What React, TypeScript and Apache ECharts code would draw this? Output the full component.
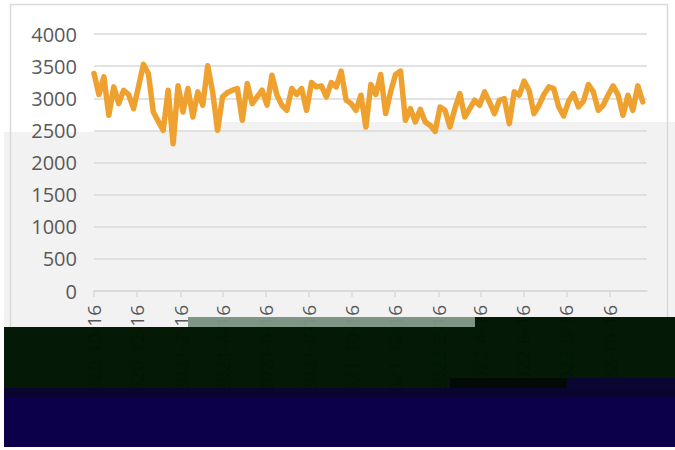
import { useEffect, useRef } from "react";
import * as echarts from "echarts";

const START_DATE = "2020-10-16";
const DAYS_PER_POINT = 7;

const tickLabels = [
  "2020-10-16", "2020-12-16", "2021-2-16", "2021-4-16", "2021-6-16",
  "2021-8-16", "2021-10-16", "2021-12-16", "2022-2-16", "2022-4-16",
  "2022-6-16", "2022-8-16", "2022-10-16",
];

const weeklyValues = [
  3386, 3058, 3333, 2734, 3177, 2917, 3125, 3058, 2839, 3180,
  3527, 3386, 2786, 2640, 2500, 3125, 2292, 3193, 2786, 3151,
  2708, 3099, 2891, 3505, 3099, 2500, 3021, 3089, 3125, 3151,
  2656, 3229, 2917, 3021, 3125, 2891, 3359, 3050, 2891, 2812,
  3151, 3058, 3151, 2812, 3245, 3177, 3193, 3021, 3245, 3177,
  3422, 2969, 2917, 2812, 3047, 2552, 3214, 3058, 3370, 2761,
  3100, 3370, 3422, 2656, 2839, 2630, 2828, 2630, 2578, 2484,
  2864, 2812, 2552, 2839, 3073, 2708, 2839, 2969, 2891, 3099,
  2942, 2761, 2969, 2995, 2604, 3099, 3047, 3266, 3125, 2761,
  2891, 3058, 3177, 3151, 2864, 2724, 2953, 3073, 2864, 2953,
  3214, 3099, 2812, 2891, 3050, 3193, 3058, 2734, 3047, 2812,
  3193, 2942,
];

const Y_MIN = 0;
const Y_MAX = 4000;
const Y_STEP = 500;
const X_MAX_DAYS = 783;

function dayOffset(label: string): number {
  const [y, m, d] = label.split("-").map(Number);
  const [sy, sm, sd] = START_DATE.split("-").map(Number);
  return Math.round((Date.UTC(y, m - 1, d) - Date.UTC(sy, sm - 1, sd)) / 86400000);
}

export default function App() {
  const ref = useRef<HTMLDivElement>(null);

  useEffect(() => {
    if (!ref.current) return;
    const chart = echarts.init(ref.current, null, { renderer: "svg" });
    const tickOffsets = tickLabels.map(dayOffset);
    const labelByOffset: Record<number, string> = {};
    tickOffsets.forEach((o, i) => (labelByOffset[o] = tickLabels[i]));
    const seriesData = weeklyValues.map((v, i) => [i * DAYS_PER_POINT, v]);
    const font = "'Open Sans', 'Noto Sans', sans-serif";
    const green = "#001603";

    chart.setOption({
      animation: false,
      backgroundColor: "#ffffff",
      grid: { left: 94, right: 28, top: 34, bottom: 159, containLabel: false },
      xAxis: {
        type: "value",
        min: 0,
        max: X_MAX_DAYS,
        axisLine: { show: true, lineStyle: { color: "#d9d9d9", width: 1.5 } },
        axisTick: {
          show: true,
          length: 6,
          customValues: tickOffsets,
          lineStyle: { color: "#d9d9d9", width: 1.5 },
        },
        axisLabel: {
          customValues: tickOffsets,
          rotate: 90,
          margin: 14,
          fontSize: 19,
          fontFamily: font,
          color: "#595959",
          formatter: (v: number) => labelByOffset[v] ?? "",
        },
        splitLine: { show: false },
      },
      yAxis: {
        type: "value",
        min: Y_MIN,
        max: Y_MAX,
        interval: Y_STEP,
        axisLine: { show: false },
        axisTick: { show: false },
        axisLabel: {
          margin: 17,
          fontSize: 20,
          fontFamily: font,
          color: "#595959",
          formatter: (v: number) => String(v),
        },
        splitLine: { lineStyle: { color: "#d9d9d9", width: 1.5 } },
      },
      series: [
        {
          type: "line",
          data: seriesData,
          showSymbol: false,
          lineStyle: { color: "#efa12f", width: 5.5, join: "round", cap: "round" },
          z: 5,
        },
      ],
      graphic: [
        {
          type: "polygon",
          z: -1,
          shape: {
            points: [[4, 132], [213, 132], [213, 122], [675, 122], [675, 447], [4, 447]],
          },
          style: { fill: "#f2f2f2" },
        },
        {
          type: "rect",
          z: -1,
          shape: { x: 10.5, y: 4.5, width: 657, height: 440 },
          style: { fill: null, stroke: "#d9d9d9", lineWidth: 1.5 },
        },
        {
          type: "rect",
          z: 100,
          shape: { x: 188, y: 317, width: 287, height: 10 },
          style: { fill: "#7b9282", opacity: 0.97 },
        },
        {
          type: "rect",
          z: 100,
          shape: { x: 4, y: 327, width: 446, height: 61 },
          style: { fill: green, opacity: 0.985 },
        },
        {
          type: "rect",
          z: 100,
          shape: { x: 450, y: 327, width: 25, height: 51 },
          style: { fill: green, opacity: 0.985 },
        },
        {
          type: "rect",
          z: 100,
          shape: { x: 475, y: 317, width: 200, height: 61 },
          style: { fill: green, opacity: 0.985 },
        },
        {
          type: "rect",
          z: 100,
          shape: { x: 450, y: 378, width: 117, height: 10 },
          style: { fill: "#020a06" },
        },
        {
          type: "rect",
          z: 100,
          shape: { x: 567, y: 378, width: 108, height: 10 },
          style: { fill: "#0b0532" },
        },
        {
          type: "rect",
          z: 100,
          shape: { x: 4, y: 388, width: 671, height: 10 },
          style: { fill: "#0a0530" },
        },
        {
          type: "rect",
          z: 100,
          shape: { x: 4, y: 398, width: 671, height: 49 },
          style: { fill: "#0b0049" },
        },
      ],
    });
    return () => chart.dispose();
  }, []);

  return (
    <div
      ref={ref}
      style={{ position: "fixed", left: 0, top: 0, width: 675, height: 450 }}
    />
  );
}
